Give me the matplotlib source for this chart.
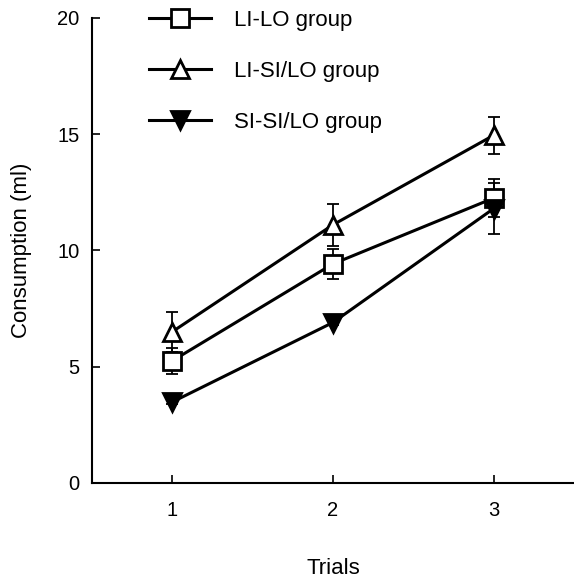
import matplotlib.pyplot as plt
from matplotlib.ticker import MultipleLocator

plt.rcParams["font.family"] = ["Liberation Sans", "DejaVu Sans"]

trials = [1, 2, 3]
labels = ["LI-LO group", "LI-SI/LO group", "SI-SI/LO group"]
li_lo = [5.25, 9.42, 12.25]
li_lo_err = [0.55, 0.65, 0.8]
li_si_lo = [6.5, 11.1, 14.95]
li_si_lo_err = [0.85, 0.9, 0.8]
si_si_lo = [3.48, 6.9, 11.8]
si_si_lo_err = [0.1, 0.1, 1.1]

fig = plt.figure(figsize=(5.74, 5.77), dpi=100)
ax = fig.add_axes([0.160, 0.163, 0.840, 0.806])

series = [
    (li_lo, li_lo_err, "s", "white"),
    (li_si_lo, li_si_lo_err, "^", "white"),
    (si_si_lo, si_si_lo_err, "v", "black"),
]
handles = []
for (vals, errs, mk, fc), lab in zip(series, labels):
    ax.errorbar(trials, vals, yerr=errs, fmt="none", ecolor="black",
                elinewidth=1.3, capsize=4, capthick=1.3, zorder=2)
    h, = ax.plot(trials, vals, color="black", lw=2.2, marker=mk, ms=13,
                 mfc=fc, mec="black", mew=2, label=lab, zorder=3)
    handles.append(h)

ax.set_xlim(0.5, 3.5)
ax.set_ylim(0, 20)
ax.xaxis.set_major_locator(MultipleLocator(1))
ax.yaxis.set_major_locator(MultipleLocator(5))
ax.spines["top"].set_visible(False)
ax.spines["right"].set_visible(False)
ax.spines["left"].set_linewidth(1.5)
ax.spines["bottom"].set_linewidth(1.5)
ax.tick_params(direction="in", length=6, width=1.2, labelsize=14.5)
ax.tick_params(axis="x", pad=13)
ax.tick_params(axis="y", pad=9)
ax.set_xlabel("Trials", fontsize=16, labelpad=27)
ax.set_ylabel("Consumption (ml)", fontsize=16, labelpad=18)

fig.legend(handles=handles, labels=labels, loc="upper left",
           bbox_to_anchor=(0.225, 1.018), frameon=False, fontsize=16,
           handlelength=2.8, labelspacing=1.36, handletextpad=1.0)

fig.savefig("out.png", dpi=100)
